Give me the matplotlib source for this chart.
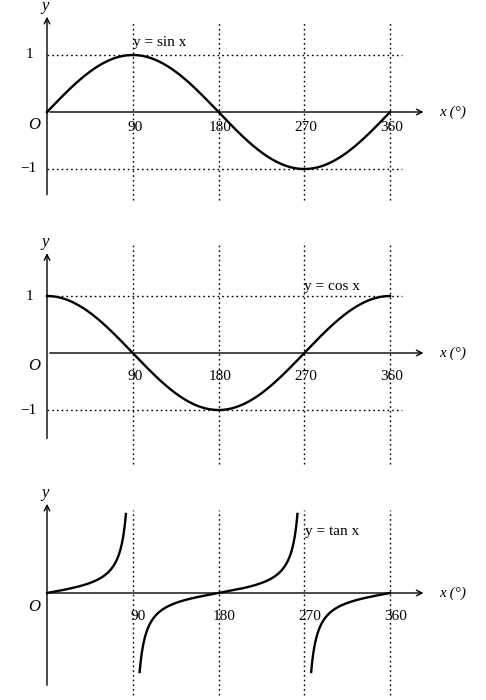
import matplotlib.pyplot as plt
import numpy as np

plt.rcParams["font.family"] = ["Liberation Serif", "DejaVu Serif"]

ticks = [90, 180, 270, 360]
labels = ["y = sin x", "y = cos x", "y = tan x"]
tan_scale = 10

fig = plt.figure(figsize=(4.86, 7.0), dpi=100)
W, H = 486, 700
PX = 0.953  # pixels per degree
X0 = 47


def make_axes(top, bottom, axis_py, unit):
    ax = fig.add_axes([0, 1 - bottom / H, 1, (bottom - top) / H])
    ax.set_xlim((0 - X0) / PX, (W - X0) / PX)
    ax.set_ylim((axis_py - bottom) / unit, (axis_py - top) / unit)
    ax.axis("off")
    return ax


def frame(ax, ytop, ybot, vtop, vbot, hline=True):
    dot = dict(color="black", lw=1.0, ls=(0, (1.2, 2.2)))
    for t in ticks:
        ax.plot([t, t], [vbot, vtop], **dot)
    if hline:
        ax.plot([0, 372], [1, 1], **dot)
        ax.plot([0, 372], [-1, -1], **dot)
    ax.annotate("", xy=(398, 0), xytext=(0, 0),
                arrowprops=dict(arrowstyle="->", lw=1.0, color="black"))
    ax.annotate("", xy=(0, ytop), xytext=(0, ybot),
                arrowprops=dict(arrowstyle="->", lw=1.0, color="black"))
    ax.text(412, 0, "x (°)", fontsize=11, va="center", ha="left", style="italic")
    ax.text(-2, ytop, "y", fontsize=12, va="bottom", ha="center", style="italic")


# sin
ax1 = make_axes(0, 230, 112, 57)
frame(ax1, 1.72, -1.5, 1.6, -1.55)
xs = np.linspace(0, 360, 400)
ax1.plot(xs, np.sin(np.radians(xs)), color="black", lw=1.7)
ax1.text(90, 1.1, labels[0], fontsize=11, ha="left", va="bottom")
ax1.text(-14, -0.08, "O", fontsize=12, style="italic", ha="center", va="top")
for t in ticks:
    ax1.text(t + 2, -0.28, str(t), fontsize=11, ha="center", va="center")
ax1.text(-18, 1, "1", fontsize=11, ha="center", va="center")
ax1.text(-20, -1, "−1", fontsize=11, ha="center", va="center")

# cos
ax2 = make_axes(230, 470, 353, 57)
frame(ax2, 1.8, -1.55, 1.95, -1.95)
ax2.plot(xs, np.cos(np.radians(xs)), color="black", lw=1.7)
ax2.text(270, 1.05, labels[1], fontsize=11, ha="left", va="bottom")
ax2.text(-14, -0.08, "O", fontsize=12, style="italic", ha="center", va="top")
for t in ticks:
    ax2.text(t + 2, -0.42, str(t), fontsize=11, ha="center", va="center")
ax2.text(-18, 1, "1", fontsize=11, ha="center", va="center")
ax2.text(-20, -1, "−1", fontsize=11, ha="center", va="center")

# tan
ax3 = make_axes(470, 700, 593, tan_scale)
frame(ax3, 9.2, -9.5, 8.3, -10.2, hline=False)
lim = 8.0
for a, b in [(0, 90), (90, 270), (270, 360)]:
    t = np.linspace(a, b, 800)[1:-1]
    y = np.tan(np.radians(t))
    m = np.abs(y) <= lim
    ax3.plot(t[m], y[m], color="black", lw=1.7)
ax3.text(271, 6.2, labels[2], fontsize=11, ha="left", va="center")
ax3.text(-14, -0.6, "O", fontsize=12, style="italic", ha="center", va="top")
for t in ticks:
    ax3.text(t + 6, -2.4, str(t), fontsize=11, ha="center", va="center")

fig.savefig("out.png", dpi=100)
